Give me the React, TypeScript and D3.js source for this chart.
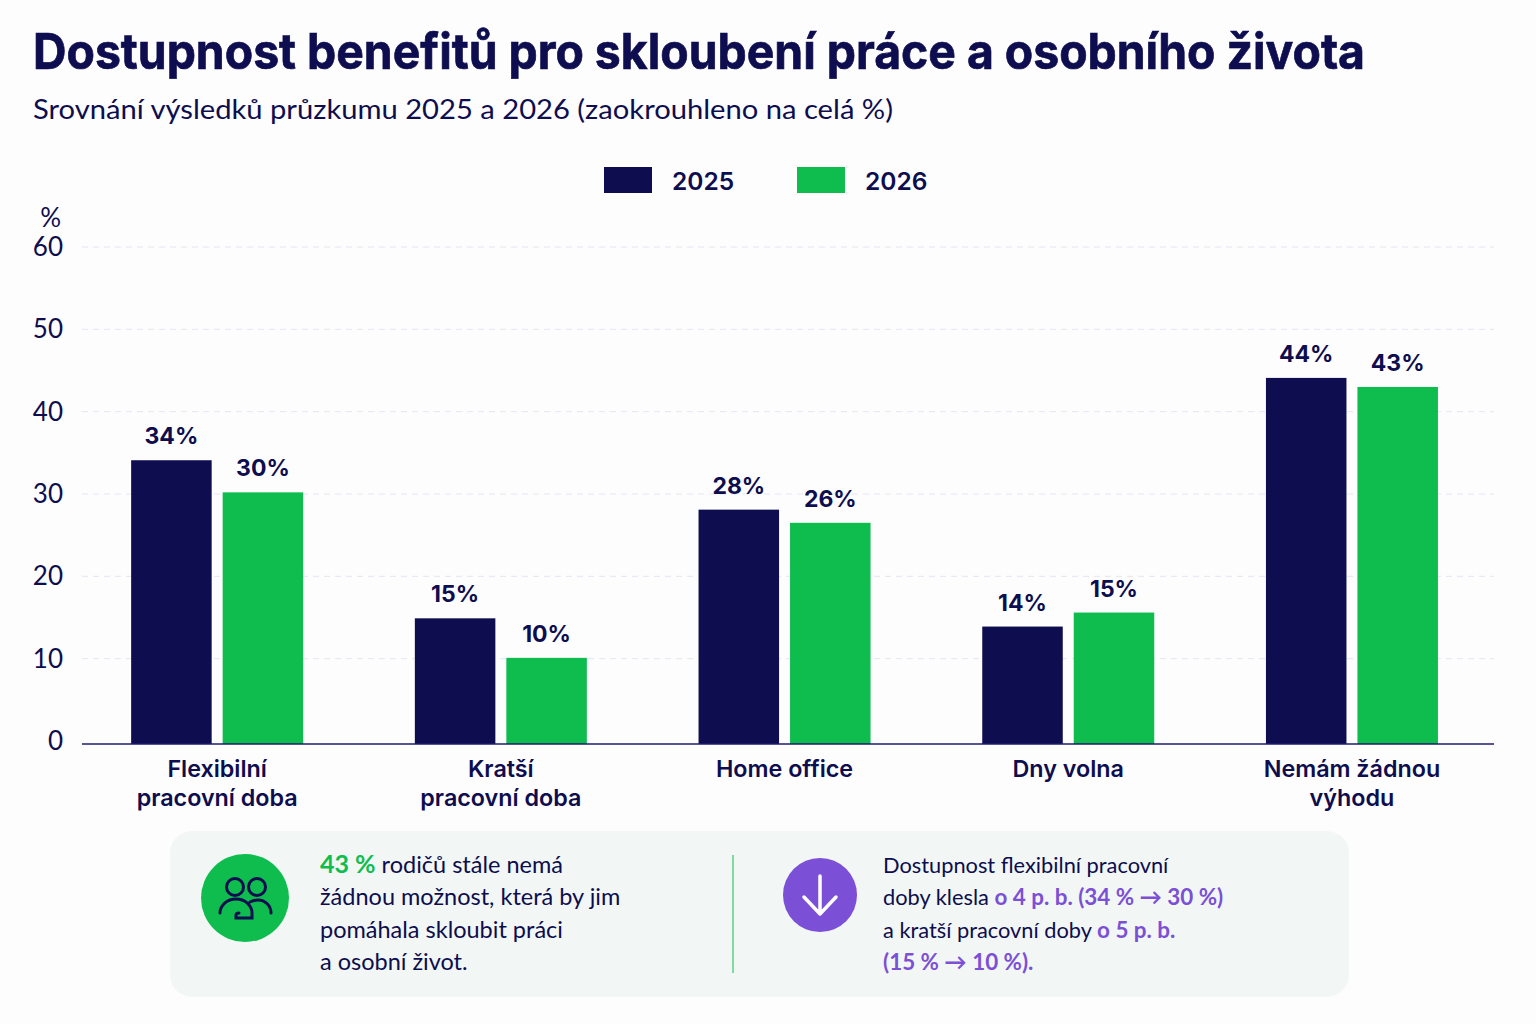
import { useEffect, useRef } from "react";
import * as d3 from "d3";

const NAVY = "#0d0d4f";
const GREEN = "#0fbd4f";
const PURPLE = "#7b4fd6";
const FONT = "Inter, sans-serif";
const BODY = "Lato, sans-serif";

const categories = [
  ["Flexibilní", "pracovní doba"],
  ["Kratší", "pracovní doba"],
  ["Home office"],
  ["Dny volna"],
  ["Nemám žádnou", "výhodu"],
];
const years = ["2025", "2026"];
// bar heights, labels as printed above the bars
const bars2025 = [34.1, 14.9, 28.1, 13.9, 44.1];
const bars2026 = [30.2, 10.1, 26.5, 15.6, 43.0];
const labels2025 = ["34%", "15%", "28%", "14%", "44%"];
const labels2026 = ["30%", "10%", "26%", "15%", "43%"];
const yTicks = [0, 10, 20, 30, 40, 50, 60];

const noteLeft = [
  [{ t: "43 %", c: GREEN, w: 700, s: 25 }, { t: " rodičů stále nemá" }],
  [{ t: "žádnou možnost, která by jim" }],
  [{ t: "pomáhala skloubit práci" }],
  [{ t: "a osobní život." }],
];
const noteRight = [
  [{ t: "Dostupnost flexibilní pracovní" }],
  [{ t: "doby klesla " }, { t: "o 4 p. b. (34 % → 30 %)", c: PURPLE, w: 700, s: 22.4 }],
  [{ t: "a kratší pracovní doby " }, { t: "o 5 p. b.", c: PURPLE, w: 700, s: 22.4 }],
  [{ t: "(15 % → 10 %).", c: PURPLE, w: 700, s: 22.4 }],
];

export default function App() {
  const ref = useRef<SVGSVGElement>(null);

  useEffect(() => {
    const svg = d3.select(ref.current);
    svg.selectAll("*").remove();

    svg.append("rect").attr("width", 1536).attr("height", 1024).attr("fill", "#fdfdfd");

    svg.append("text").attr("x", 33).attr("y", 69)
      .attr("font-family", FONT).attr("font-size", 50).attr("font-weight", 700)
      .attr("fill", NAVY).attr("stroke", NAVY).attr("stroke-width", 0.7)
      .attr("textLength", 1332).attr("lengthAdjust", "spacingAndGlyphs")
      .text("Dostupnost benefitů pro skloubení práce a osobního života");
    svg.append("text").attr("x", 33).attr("y", 119)
      .attr("font-family", BODY).attr("font-size", 27).attr("fill", NAVY)
      .attr("textLength", 860).attr("lengthAdjust", "spacingAndGlyphs")
      .text("Srovnání výsledků průzkumu 2025 a 2026 (zaokrouhleno na celá %)");

    const colors = d3.scaleOrdinal<string, string>().domain(years).range([NAVY, GREEN]);

    // legend
    const legend = d3.scalePoint<string>().domain(years).range([604, 797]);
    years.forEach((y) => {
      svg.append("rect").attr("x", legend(y)!).attr("y", 167).attr("width", 48).attr("height", 26).attr("fill", colors(y));
      svg.append("text").attr("x", legend(y)! + 68).attr("y", 190)
        .attr("font-family", FONT).attr("font-size", 24.5).attr("font-weight", 600).attr("fill", NAVY).text(y);
    });

    const baseline = 744;
    const yScale = d3.scaleLinear().domain([0, 60]).range([741, 247]);
    const x0 = d3.scaleBand<number>().domain(d3.range(categories.length)).range([75.3, 1493.8]);
    const x1 = d3.scaleBand<string>().domain(years).range([x0.bandwidth() / 2 - 86, x0.bandwidth() / 2 + 86]).paddingInner(0.12);

    // grid + y axis
    yTicks.forEach((t) => {
      if (t > 0) {
        svg.append("line").attr("x1", 82).attr("x2", 1494).attr("y1", yScale(t)).attr("y2", yScale(t))
          .attr("stroke", "#e3e6f0").attr("stroke-width", 1).attr("stroke-dasharray", "6 5");
      }
      svg.append("text").attr("x", 63).attr("y", yScale(t) + 9).attr("text-anchor", "end")
        .attr("font-family", BODY).attr("font-size", 26).attr("fill", NAVY).text(t);
    });
    svg.append("text").attr("x", 61).attr("y", 227).attr("text-anchor", "end")
      .attr("font-family", BODY).attr("font-size", 26).attr("fill", NAVY).text("%");

    // bars
    const series: [string, number[], string[]][] = [
      [years[0], bars2025, labels2025],
      [years[1], bars2026, labels2026],
    ];
    series.forEach(([year, vals, labels]) => {
      const g = svg.append("g").attr("fill", colors(year));
      vals.forEach((v, i) => {
        const bx = x0(i)! + x1(year)!;
        g.append("rect").attr("x", bx).attr("y", yScale(v)).attr("width", x1.bandwidth()).attr("height", baseline - yScale(v));
        svg.append("text").attr("x", bx + x1.bandwidth() / 2).attr("y", yScale(v) - 16).attr("text-anchor", "middle")
          .attr("font-family", FONT).attr("font-size", 23).attr("font-weight", 700).attr("fill", NAVY).text(labels[i]);
      });
    });

    svg.append("line").attr("x1", 82).attr("x2", 1494).attr("y1", baseline).attr("y2", baseline).attr("stroke", "#1c1c6b").attr("stroke-width", 1.5);

    // category labels
    categories.forEach((lines, i) => {
      lines.forEach((line, j) => {
        svg.append("text").attr("x", x0(i)! + x0.bandwidth() / 2).attr("y", 777 + j * 29).attr("text-anchor", "middle")
          .attr("font-family", FONT).attr("font-size", 23.3).attr("font-weight", 600).attr("fill", NAVY).text(line);
      });
    });

    // note box
    svg.append("rect").attr("x", 170).attr("y", 831).attr("width", 1179).attr("height", 166).attr("rx", 22).attr("fill", "#f2f7f5");
    svg.append("line").attr("x1", 733).attr("x2", 733).attr("y1", 855).attr("y2", 973).attr("stroke", GREEN).attr("stroke-width", 1);

    const icon = svg.append("g");
    icon.append("circle").attr("cx", 245).attr("cy", 898).attr("r", 44).attr("fill", GREEN);
    const people = icon.append("g").attr("fill", "none").attr("stroke", NAVY).attr("stroke-width", 3).attr("stroke-linecap", "round");
    people.append("circle").attr("cx", 235).attr("cy", 887).attr("r", 8.5);
    people.append("circle").attr("cx", 257).attr("cy", 887).attr("r", 8.5);
    people.append("path").attr("d", "M220 913 a16 14 0 0 1 32 0 v5 h-16 v-3 q0 -2 3 -2 M250 902 q4 -2 8 -2 a13 13 0 0 1 13 13");

    const arrow = svg.append("g");
    arrow.append("circle").attr("cx", 820).attr("cy", 895).attr("r", 37).attr("fill", PURPLE);
    arrow.append("path").attr("d", "M820 876 V914 M804 897 L820 914 L836 897").attr("fill", "none").attr("stroke", "#fff").attr("stroke-width", 3.5).attr("stroke-linecap", "round").attr("stroke-linejoin", "round");

    const note = (rows: { t: string; c?: string; w?: number; s?: number }[][], x: number, size: number) => {
      rows.forEach((row, i) => {
        const text = svg.append("text").attr("x", x).attr("y", 873 + i * 32.3)
          .attr("font-family", BODY).attr("font-size", size).attr("fill", NAVY).attr("xml:space", "preserve");
        row.forEach((s) => {
          text.append("tspan").attr("fill", s.c ?? NAVY).attr("font-weight", s.w ?? 400).attr("font-size", s.s ?? size).text(s.t);
        });
      });
    };
    note(noteLeft, 320, 23.5);
    note(noteRight, 883, 21.8);
  }, []);

  return <svg ref={ref} width={1536} height={1024} style={{ position: "absolute", left: 0, top: 0 }} />;
}
